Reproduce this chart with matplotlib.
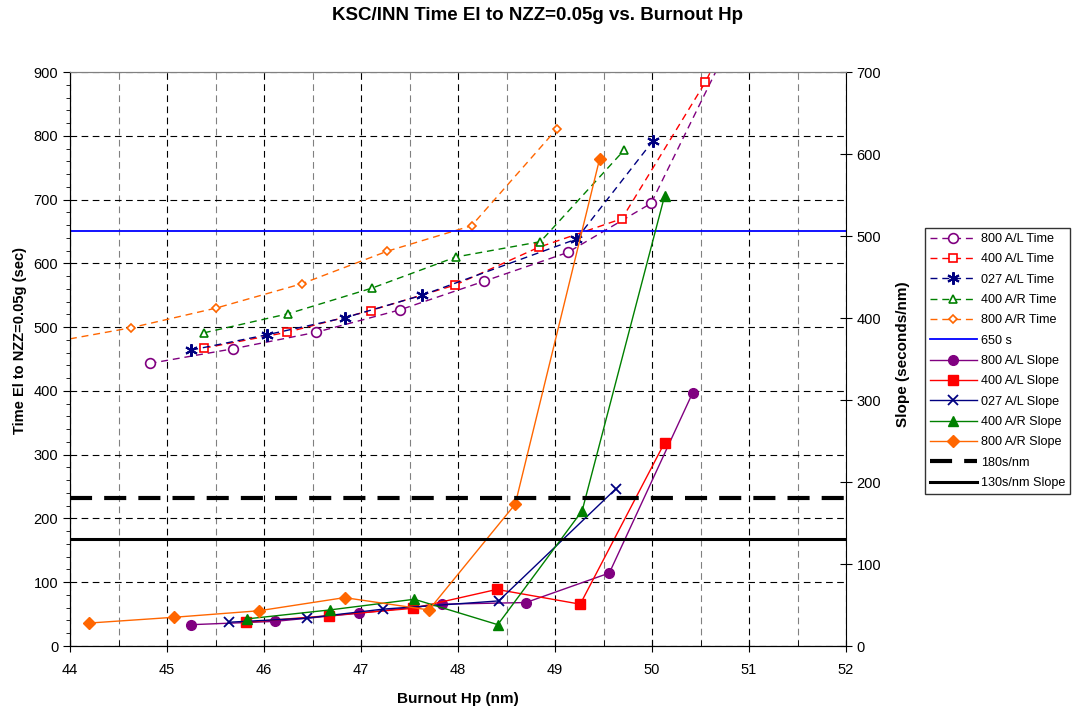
import matplotlib
matplotlib.use('Agg')
import matplotlib.pyplot as plt
from matplotlib.ticker import MultipleLocator

plt.rcParams['font.family'] = ['Liberation Sans', 'DejaVu Sans']

# time to NZZ=0.05g (left axis, sec)
al800_hp = [44.82, 45.68, 46.54, 47.40, 48.27, 49.13, 49.99, 50.85]
al800_time = [443, 466, 492, 527, 572, 617, 694, 960]
al400_hp = [45.38, 46.24, 47.10, 47.97, 48.83, 49.69, 50.55, 51.41]
al400_time = [467, 492, 526, 566, 625, 670, 884, 1150]
al027_hp = [45.25, 46.03, 46.84, 47.63, 49.22, 50.01]
al027_time = [464, 488, 515, 550, 638, 792]
ar400_hp = [45.38, 46.25, 47.11, 47.98, 48.85, 49.71]
ar400_time = [491, 521, 561, 610, 634, 777]
ar800_hp = [43.76, 44.63, 45.51, 46.39, 47.27, 48.14, 49.02]
ar800_time = [475, 499, 530, 568, 619, 659, 811]

# slopes (right axis, seconds/nm)
al800_s_hp = [45.25, 46.11, 46.98, 47.84, 48.70, 49.56, 50.42]
al800_slope = [26, 30, 40, 51, 53, 89, 309]
al400_s_hp = [45.81, 46.67, 47.54, 48.40, 49.26, 50.13]
al400_slope = [29, 37, 46, 69, 51, 248]
al027_s_hp = [45.64, 46.44, 47.23, 48.42, 49.63]
al027_slope = [29, 34, 45, 55, 192]
ar400_s_hp = [45.82, 46.68, 47.55, 48.41, 49.28, 50.13]
ar400_slope = [33, 44, 57, 26, 165, 549]
ar800_s_hp = [44.20, 45.07, 45.95, 46.83, 47.70, 48.59, 49.46]
ar800_slope = [28, 35, 43, 59, 44, 173, 594]

limit_time = 650
limit_slope_1 = 180
limit_slope_2 = 130

purple = '#800080'
red = '#ff0000'
navy = '#000080'
green = '#008000'
orange = '#ff6600'

fig = plt.figure(figsize=(10.76, 7.11), dpi=100)
ax = fig.add_axes([70/1076, 65/711, 776/1076, 574/711])
ax2 = ax.twinx()

ax.set_xlim(44, 52)
ax.set_ylim(0, 900)
ax2.set_ylim(0, 700)

# grid
ax.xaxis.set_major_locator(MultipleLocator(1))
ax.xaxis.set_minor_locator(MultipleLocator(0.5))
ax.yaxis.set_major_locator(MultipleLocator(100))
ax.yaxis.set_minor_locator(MultipleLocator(20))
ax2.yaxis.set_major_locator(MultipleLocator(100))
ax.grid(True, which='major', axis='both', color='black', lw=0.8, ls=(0, (6, 4)))
ax.grid(True, which='minor', axis='x', color='#808080', lw=0.8, ls=(0, (6, 4)))
ax.set_axisbelow(True)

ax.tick_params(axis='x', which='major', direction='inout', length=8, labelsize=10.5, pad=8)
ax.tick_params(axis='x', which='minor', direction='in', length=4)
ax.tick_params(axis='y', which='major', direction='out', length=5, labelsize=10.5)
ax.tick_params(axis='y', which='minor', direction='out', length=3)
ax2.tick_params(axis='y', which='major', direction='inout', length=8, labelsize=10.5)
for a in (ax, ax2):
    a.spines['top'].set_color('#808080')
ax.spines['right'].set_visible(False)

dash = (0, (5, 3.5))
ax.plot(al800_hp, al800_time, color=purple, ls=dash, lw=1, marker='o', ms=7,
        mfc='white', mec=purple, mew=1.2, label='800 A/L Time')
ax.plot(al400_hp, al400_time, color=red, ls=dash, lw=1, marker='s', ms=6,
        mfc='white', mec=red, mew=1.2, label='400 A/L Time')
ax.plot(al027_hp, al027_time, color=navy, ls=dash, lw=1, marker=(6, 2, 0), ms=9,
        mec=navy, mew=1.5, label='027 A/L Time')
ax.plot(ar400_hp, ar400_time, color=green, ls=dash, lw=1, marker='^', ms=6,
        mfc='white', mec=green, mew=1.2, label='400 A/R Time')
ax.plot(ar800_hp, ar800_time, color=orange, ls=dash, lw=1, marker='D', ms=4.5,
        mfc='white', mec=orange, mew=1.2, label='800 A/R Time')
ax.axhline(limit_time, color='#0000ff', lw=1.3, label='650 s')

ax2.plot(al800_s_hp, al800_slope, color=purple, lw=1, marker='o', ms=7, label='800 A/L Slope')
ax2.plot(al400_s_hp, al400_slope, color=red, lw=1, marker='s', ms=7, label='400 A/L Slope')
ax2.plot(al027_s_hp, al027_slope, color=navy, lw=1, marker='x', ms=7, mew=1.3, label='027 A/L Slope')
ax2.plot(ar400_s_hp, ar400_slope, color=green, lw=1, marker='^', ms=7.5, label='400 A/R Slope')
ax2.plot(ar800_s_hp, ar800_slope, color=orange, lw=1, marker='D', ms=6, label='800 A/R Slope')
ax2.axhline(limit_slope_1, color='black', lw=3, ls=(0, (5.3, 2.9)), label='180s/nm')
ax2.axhline(limit_slope_2, color='black', lw=2.2, label='130s/nm Slope')

ax.set_xlabel('Burnout Hp (nm)', fontsize=11, fontweight='bold')
ax.xaxis.set_label_coords(0.5, -0.081)
ax.set_ylabel('Time El to NZZ=0.05g (sec)', fontsize=10.5, fontweight='bold')
ax.yaxis.set_label_coords(-0.055, 0.533)
ax2.set_ylabel('Slope (seconds/nm)', fontsize=11, fontweight='bold')
ax2.yaxis.set_label_coords(1.064, 0.509)
fig.text(0.5, 1 - 15/711, 'KSC/INN Time El to NZZ=0.05g vs. Burnout Hp',
         ha='center', va='center', fontsize=13.5, fontweight='bold')

h1, l1 = ax.get_legend_handles_labels()
h2, l2 = ax2.get_legend_handles_labels()
leg = fig.legend(h1 + h2, l1 + l2, loc='upper left', bbox_to_anchor=(925/1076, 1 - 228/711),
                 fontsize=9.1, frameon=True, fancybox=False, edgecolor='black',
                 handlelength=3.7, labelspacing=0.66, borderpad=0.4, handletextpad=0.3,
                 borderaxespad=0)
leg.get_frame().set_linewidth(1)

fig.savefig('out.png', dpi=100)
